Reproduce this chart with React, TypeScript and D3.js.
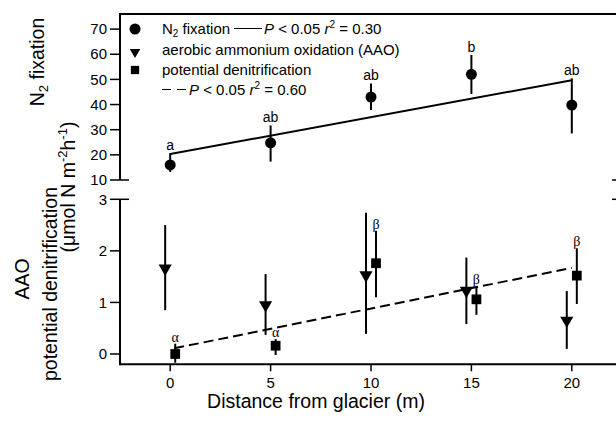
import * as d3 from "d3"

const distances = [0, 5, 10, 15, 20]

const n2Mean = [16, 24.8, 43, 52, 39.8]
const n2Upper = [20.7, 31.7, 48.4, 59.7, 50.4]
const n2Lower = [13.2, 17.3, 37.8, 44.2, 28.5]
const n2Letters = ["a", "ab", "ab", "b", "ab"]

const aaoMean = [1.66, 0.95, 1.53, 1.23, 0.65]
const aaoUpper = [2.5, 1.55, 2.74, 1.87, 1.22]
const aaoLower = [0.85, 0.37, 0.39, 0.58, 0.1]

const denitMean = [0.0, 0.16, 1.76, 1.06, 1.52]
const denitUpper = [0.2, 0.29, 2.39, 1.32, 2.05]
const denitLower = [-0.17, -0.02, 1.1, 0.76, 0.97]
const denitLetters = ["α", "α", "β", "β", "β"]

const n2FitX = [0, 20]
const n2FitY = [20.3, 49.7]
const denitFitX = [0.2, 20]
const denitFitY = [0.11, 1.67]

const xTicks = [0, 5, 10, 15, 20]
const upperTicks = [10, 20, 30, 40, 50, 60, 70]
const lowerTicks = [0, 1, 2, 3]

const font = "'Liberation Sans', Arial, sans-serif"
const serif = "'Liberation Serif', 'Times New Roman', serif"

export default function App() {
  const width = 616
  const height = 421

  const x = d3.scaleLinear().domain([-2.5, 22.5]).range([120, 622])
  const yUp = d3.scaleLinear().domain([10, 76]).range([180, 14])
  const yLo = d3.scaleLinear().domain([-0.2, 3]).range([364.3, 199.3])

  const offset = 0.25
  const line = d3.line<[number, number]>()

  const n2Line = line(n2FitX.map((d, i) => [x(d), yUp(n2FitY[i])]))
  const denitLine = line(denitFitX.map((d, i) => [x(d), yLo(denitFitY[i])]))

  const tri = d3.symbol(d3.symbolTriangle, 75)()
  const sq = d3.symbol(d3.symbolSquare, 95)()

  const left = x(-2.5)
  const right = x(22.5)
  const upTop = yUp(76)
  const upBottom = yUp(10)
  const loTop = yLo(3)
  const loBottom = yLo(-0.2)

  return (
    <svg width={width} height={height} style={{ position: "absolute", left: 0, top: 0 }} fontFamily={font}>
      <rect width={width} height={height} fill="#fff" />

      {/* frame and broken left axis */}
      <line x1={left} x2={right} y1={upTop} y2={upTop} stroke="#000" strokeWidth={2} />
      <line x1={left} x2={right} y1={loBottom} y2={loBottom} stroke="#000" strokeWidth={2} />
      <line x1={left} x2={left} y1={upTop - 1} y2={upBottom} stroke="#000" strokeWidth={2} />
      <line x1={left} x2={left} y1={loTop} y2={loBottom + 1} stroke="#000" strokeWidth={2} />
      <line x1={left - 10} x2={left + 9} y1={upBottom} y2={upBottom} stroke="#000" strokeWidth={1.5} />
      <line x1={left - 10} x2={left + 9} y1={loTop} y2={loTop} stroke="#000" strokeWidth={1.5} />
      <line x1={right - 10} x2={right + 10} y1={upBottom} y2={upBottom} stroke="#000" strokeWidth={1.5} />
      <line x1={right - 10} x2={right + 10} y1={loTop} y2={loTop} stroke="#000" strokeWidth={1.5} />

      {/* ticks */}
      {upperTicks.map((t) => (
        <g key={"u" + t}>
          {t !== 10 && <line x1={left - 10} x2={left} y1={yUp(t)} y2={yUp(t)} stroke="#000" strokeWidth={1.5} />}
          <text x={left - 13} y={yUp(t)} dy="0.35em" textAnchor="end" fontSize={15}>{t}</text>
        </g>
      ))}
      {lowerTicks.map((t) => (
        <g key={"l" + t}>
          {t !== 3 && <line x1={left - 10} x2={left} y1={yLo(t)} y2={yLo(t)} stroke="#000" strokeWidth={1.5} />}
          <text x={left - 13} y={yLo(t)} dy="0.35em" textAnchor="end" fontSize={15}>{t}</text>
        </g>
      ))}
      {xTicks.map((t) => (
        <g key={"x" + t}>
          <line x1={x(t)} x2={x(t)} y1={loBottom} y2={loBottom + 7} stroke="#000" strokeWidth={1.5} />
          <text x={x(t)} y={388} textAnchor="middle" fontSize={15}>{t}</text>
        </g>
      ))}

      {/* axis titles */}
      <text x={316} y={408} textAnchor="middle" fontSize={19.5}>Distance from glacier (m)</text>
      <text transform="translate(44,62) rotate(-90)" textAnchor="middle" fontSize={19.5}>
        N<tspan fontSize={13} dy={4}>2</tspan><tspan dy={-4}> fixation</tspan>
      </text>
      <text transform="translate(75,187) rotate(-90)" textAnchor="middle" fontSize={19.5}>
        (μmol N m<tspan fontSize={13} dy={-8}>-2</tspan><tspan dy={8}>h</tspan><tspan fontSize={13} dy={-8}>-1</tspan><tspan dy={8}>)</tspan>
      </text>
      <text transform="translate(57,284) rotate(-90)" textAnchor="middle" fontSize={19.5}>potential denitrification</text>
      <text transform="translate(29,279) rotate(-90)" textAnchor="middle" fontSize={19.5}>AAO</text>

      {/* regression lines */}
      <path d={n2Line ?? ""} fill="none" stroke="#000" strokeWidth={2} />
      <path d={denitLine ?? ""} fill="none" stroke="#000" strokeWidth={2} strokeDasharray="10,5" />

      {/* N2 fixation */}
      {distances.map((d, i) => (
        <g key={"n" + i}>
          <line x1={x(d)} x2={x(d)} y1={yUp(n2Upper[i])} y2={yUp(n2Lower[i])} stroke="#000" strokeWidth={2} />
          <circle cx={x(d)} cy={yUp(n2Mean[i])} r={5.5} fill="#000" />
          <text x={x(d)} y={yUp(n2Upper[i]) - 3} textAnchor="middle" fontSize={14}>{n2Letters[i]}</text>
        </g>
      ))}

      {/* AAO */}
      {distances.map((d, i) => (
        <g key={"a" + i}>
          <line x1={x(d - offset)} x2={x(d - offset)} y1={yLo(aaoUpper[i])} y2={yLo(aaoLower[i])} stroke="#000" strokeWidth={2} />
          <path d={tri ?? ""} transform={`translate(${x(d - offset)},${yLo(aaoMean[i])}) rotate(180)`} fill="#000" />
        </g>
      ))}

      {/* denitrification */}
      {distances.map((d, i) => (
        <g key={"d" + i}>
          <line x1={x(d + offset)} x2={x(d + offset)} y1={yLo(denitUpper[i])} y2={yLo(denitLower[i])} stroke="#000" strokeWidth={2} />
          <path d={sq ?? ""} transform={`translate(${x(d + offset)},${yLo(denitMean[i])})`} fill="#000" />
          <text x={x(d + offset)} y={yLo(denitUpper[i]) - 2} textAnchor="middle" fontSize={14} fontFamily={serif} fill="#000">{denitLetters[i]}</text>
        </g>
      ))}

      {/* legend */}
      <g fontSize={15}>
        <circle cx={135} cy={29} r={5.5} fill="#000" />
        <text x={162} y={34}>
          N<tspan fontSize={10} dy={3}>2</tspan><tspan dy={-3}> fixation</tspan>
        </text>
        <line x1={234} x2={262} y1={28.5} y2={28.5} stroke="#000" strokeWidth={1} />
        <text x={264} y={34}>
          <tspan fontStyle="italic">P</tspan> &lt; 0.05 <tspan fontStyle="italic">r</tspan><tspan fontSize={10} dy={-6}>2</tspan><tspan dy={6}> = 0.30</tspan>
        </text>

        <path d={tri ?? ""} transform="translate(135,52) rotate(180) scale(0.8)" fill="#000" />
        <text x={162} y={55}>aerobic ammonium oxidation (AAO)</text>

        <path d={sq ?? ""} transform="translate(135,70) scale(0.85)" fill="#000" />
        <text x={162} y={75}>potential denitrification</text>

        <line x1={162} x2={187} y1={89.5} y2={89.5} stroke="#000" strokeWidth={1} strokeDasharray="9,6" />
        <text x={189} y={95}>
          <tspan fontStyle="italic">P</tspan> &lt; 0.05 <tspan fontStyle="italic">r</tspan><tspan fontSize={10} dy={-6}>2</tspan><tspan dy={6}> = 0.60</tspan>
        </text>
      </g>
    </svg>
  )
}
